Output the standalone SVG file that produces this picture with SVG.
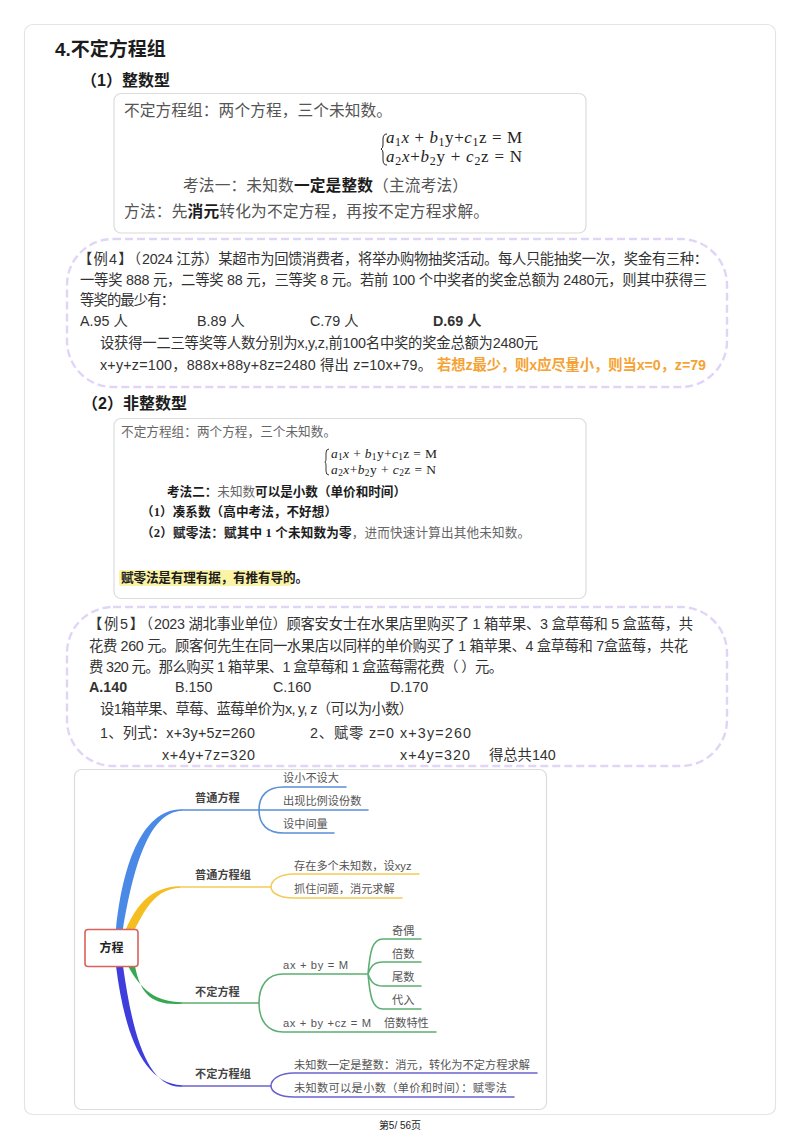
<svg xmlns="http://www.w3.org/2000/svg" width="800" height="1139" viewBox="0 0 800 1139">
<style>
text{font-family:"Liberation Sans","Noto Sans CJK SC",sans-serif;fill:#222}
.h1{font-size:19px;font-weight:700;fill:#1c1c1c}
.h2{font-size:16px;font-weight:700;fill:#1c1c1c}
.card{fill:#fff;stroke:#dcdcdc;stroke-width:1.2}
.dash{fill:#fff;stroke:#e1d5f7;stroke-width:2.4;stroke-dasharray:8 4}
.s1{font-size:15.7px;font-family:"Liberation Serif","Noto Sans CJK SC",serif;fill:#555}
.s2{font-size:12.6px;font-family:"Liberation Serif","Noto Sans CJK SC",serif;fill:#666}
.b{font-weight:700;fill:#1c1c1c}
.eq{font-family:"Liberation Serif",serif;fill:#222}
.eq1{font-size:17px}
.eq2{font-size:13.5px}
.sub{font-size:70%}
.ex{font-size:14.3px;fill:#333}
.or{fill:#f5a233;font-weight:700}
.m{font-size:11.2px;fill:#555}
.mb{font-size:11.2px;font-weight:700;fill:#444}
.ln{fill:none;stroke-width:1.6;stroke-linecap:round}
.blue{stroke:#5b8fd6}.yel{stroke:#f3cb58}.grn{stroke:#5cae72}.pur{stroke:#6a63cf}
</style>
<rect width="800" height="1139" fill="#fff"/>
<rect id="page" x="24.500" y="24.500" width="751" height="1090" rx="8" fill="#fff" stroke="#e4e4e4" stroke-width="1.2"/>
<g id="headings">
<text class="h1" x="55" y="56">4.不定方程组</text>
<text class="h2" x="81" y="86">（1）整数型</text>
<text class="h2" x="82" y="409">（2）非整数型</text>
</g>
<g id="card1">
<rect class="card" x="114" y="93.500" width="472" height="139.500" rx="7"/>
<text class="s1" x="124" y="116" textLength="268">不定方程组：两个方程，三个未知数。</text>
<path d="M387 134 Q383 134 383 139 V145 Q383 148 381 149 Q383 150 383 153 V160 Q383 165 387 165" fill="none" stroke="#222" stroke-width="1"/>
<text class="eq eq1" x="386" y="143" textLength="136"><tspan font-style="italic">a</tspan><tspan class="sub" dy="3">1</tspan><tspan font-style="italic" dy="-3">x</tspan> + <tspan font-style="italic">b</tspan><tspan class="sub" dy="3">1</tspan><tspan dy="-3">y+</tspan><tspan font-style="italic">c</tspan><tspan class="sub" dy="3">1</tspan><tspan dy="-3">z = M</tspan></text>
<text class="eq eq1" x="386" y="162" textLength="136"><tspan font-style="italic">a</tspan><tspan class="sub" dy="3">2</tspan><tspan font-style="italic" dy="-3">x</tspan>+<tspan font-style="italic">b</tspan><tspan class="sub" dy="3">2</tspan><tspan dy="-3">y + </tspan><tspan font-style="italic">c</tspan><tspan class="sub" dy="3">2</tspan><tspan dy="-3">z = N</tspan></text>
<text class="s1" x="183" y="191" textLength="285">考法一：未知数<tspan class="b">一定是整数</tspan>（主流考法）</text>
<text class="s1" x="124" y="217" textLength="365">方法：先<tspan class="b">消元</tspan>转化为不定方程，再按不定方程求解。</text>
</g>
<g id="example4">
<rect class="dash" x="67" y="239" width="660" height="148" rx="46"/>
<text class="ex" x="78" y="264" textLength="63">【例4】（</text>
<text class="ex" x="142" y="264" textLength="566">2024 江苏）某超市为回馈消费者，将举办购物抽奖活动。每人只能抽奖一次，奖金有三种：</text>
<text class="ex" x="80" y="285" textLength="627">一等奖 888 元，二等奖 88 元，三等奖 8 元。若前 100 个中奖者的奖金总额为 2480元，则其中获得三</text>
<text class="ex" x="80" y="305" textLength="95">等奖的最少有：</text>
<text class="ex" x="80" y="326">A.95 人</text>
<text class="ex" x="197" y="326">B.89 人</text>
<text class="ex" x="310" y="326">C.79 人</text>
<text class="ex b" x="433" y="326">D.69 人</text>
<text class="ex" x="100" y="348" textLength="438">设获得一二三等奖等人数分别为x,y,z,前100名中奖的奖金总额为2480元</text>
<text class="ex" x="100" y="370" textLength="332">x+y+z=100，888x+88y+8z=2480 得出 z=10x+79。</text>
<text class="ex or" x="437" y="370" textLength="269">若想z最少，则x应尽量小，则当x=0，z=79</text>
</g>
<g id="card2">
<rect class="card" x="114" y="418.500" width="472" height="180" rx="7"/>
<text class="s2" x="121" y="436" textLength="215">不定方程组：两个方程，三个未知数。</text>
<path d="M329 449 Q326 449 326 453 V459 Q326 461 325 462 Q326 463 326 465 V471 Q326 475 329 475" fill="none" stroke="#222" stroke-width=".9"/>
<text class="eq eq2" x="331" y="458" textLength="106"><tspan font-style="italic">a</tspan><tspan class="sub" dy="2">1</tspan><tspan font-style="italic" dy="-2">x</tspan> + <tspan font-style="italic">b</tspan><tspan class="sub" dy="2">1</tspan><tspan dy="-2">y+</tspan><tspan font-style="italic">c</tspan><tspan class="sub" dy="2">1</tspan><tspan dy="-2">z = M</tspan></text>
<text class="eq eq2" x="331" y="474" textLength="105"><tspan font-style="italic">a</tspan><tspan class="sub" dy="2">2</tspan><tspan font-style="italic" dy="-2">x</tspan>+<tspan font-style="italic">b</tspan><tspan class="sub" dy="2">2</tspan><tspan dy="-2">y + </tspan><tspan font-style="italic">c</tspan><tspan class="sub" dy="2">2</tspan><tspan dy="-2">z = N</tspan></text>
<text class="s2" x="167" y="496" textLength="239"><tspan class="b">考法二：</tspan>未知数<tspan class="b">可以是小数（单价和时间）</tspan></text>
<text class="s2 b" x="141" y="516" textLength="196">（1）凑系数（高中考法，不好想）</text>
<text class="s2" x="141" y="537" textLength="389"><tspan class="b">（2）赋零法：赋其中 1 个未知数为零</tspan>，进而快速计算出其他未知数。</text>
<rect x="119" y="570" width="173" height="16" rx="2" fill="#fbf3a6"/>
<text class="s2 b" x="121" y="582" textLength="187">赋零法是有理有据，有推有导的。</text>
</g>
<g id="example5">
<rect class="dash" x="67" y="607" width="660" height="159" rx="46"/>
<text class="ex" x="88" y="629" textLength="65">【例5】（</text>
<text class="ex" x="154" y="629" textLength="539">2023 湖北事业单位）顾客安女士在水果店里购买了 1 箱苹果、3 盒草莓和 5 盒蓝莓，共</text>
<text class="ex" x="89" y="651" textLength="599">花费 260 元。顾客何先生在同一水果店以同样的单价购买了 1 箱苹果、4 盒草莓和 7盒蓝莓，共花</text>
<text class="ex" x="89" y="672" textLength="414">费 320 元。那么购买 1 箱苹果、1 盒草莓和 1 盒蓝莓需花费（ ）元。</text>
<text class="ex b" x="89" y="692">A.140</text>
<text class="ex" x="175" y="692">B.150</text>
<text class="ex" x="273" y="692">C.160</text>
<text class="ex" x="390" y="692">D.170</text>
<text class="ex" x="100" y="714" textLength="313">设1箱苹果、草莓、蓝莓单价为x, y, z（可以为小数）</text>
<text class="ex" x="100" y="738" textLength="155">1、列式：x+3y+5z=260</text>
<text class="ex" x="310" y="738" textLength="84">2、赋零  z=0</text>
<text class="ex" x="400" y="738" textLength="71">x+3y=260</text>
<text class="ex" x="162" y="760" textLength="93">x+4y+7z=320</text>
<text class="ex" x="400" y="760" textLength="70">x+4y=320</text>
<text class="ex" x="489" y="760">得总共140</text>
</g>
<rect id="mapframe" x="74.500" y="769.500" width="472" height="340" rx="7" fill="#fff" stroke="#dcdcdc" stroke-width="1.2"/>
<g id="connectors">
<path d="M116 929 C122 870 140 809 182 809.200 L182 810.800 C148 812 133 870 123 929Z" fill="#4a8ae6"/>
<path d="M126 929 C137 905 150 887 180 886.200 L180 887.800 C156 889 146 908 135 929Z" fill="#f5bd1f"/>
<path d="M128 966 C141 990 156 1002 182 1002.200 L182 1003.800 C150 1006 140 992 135 966Z" fill="#36a852"/>
<path d="M116 966 C124 1030 142 1084 182 1085.200 L182 1086.800 C146 1088 132 1030 123 966Z" fill="#3f3ddc"/>
<path class="ln blue" d="M182 810H368M259 810C259 795 268 787 283 787H346M259 810C259 825 268 833 283 833H334"/>
<path class="ln yel" d="M180 887H271C271 880 280 874 294 874H419M271 887C271 893 280 898 294 898H402"/>
<path class="ln grn" d="M182 1003H259M259 1003C259 985 268 974 283 974H368M259 1003C259 1021 268 1032 283 1032H436M368 974C370 952 372 939 383 939H421M368 974C371 966 374 962 383 962H421M368 974C371 982 374 986 383 986H421M368 974C370 996 372 1009 383 1009H421"/>
<path class="ln pur" d="M182 1086H271C271 1079 280 1073 294 1073H537M271 1086C271 1092 280 1097 294 1097H514"/>
</g>
<g id="n-root">
<rect x="85" y="929.500" width="53" height="37" rx="3" fill="#fff" stroke="#d9625c" stroke-width="1.6"/>
<text x="111.500" y="952" text-anchor="middle" font-size="12" font-weight="700" fill="#222">方程</text>
</g>
<g id="n-a"><text class="mb" x="195" y="802">普通方程</text>
<text class="m" x="283" y="782">设小不设大</text><text class="m" x="283" y="805">出现比例设份数</text><text class="m" x="283" y="828">设中间量</text></g>
<g id="n-b"><text class="mb" x="195" y="879">普通方程组</text>
<text class="m" x="294" y="870">存在多个未知数，设xyz</text><text class="m" x="294" y="893">抓住问题，消元求解</text></g>
<g id="n-c"><text class="mb" x="195" y="996">不定方程</text>
<text class="m" x="283" y="969" textLength="65">ax + by = M</text><text class="m" x="283" y="1027" textLength="88">ax + by +cz = M</text>
<text class="m" x="392" y="935">奇偶</text><text class="m" x="392" y="958">倍数</text><text class="m" x="392" y="981">尾数</text><text class="m" x="392" y="1004">代入</text><text class="m" x="384" y="1027">倍数特性</text></g>
<g id="n-d"><text class="mb" x="195" y="1078">不定方程组</text>
<text class="m" x="294" y="1069" textLength="236">未知数一定是整数：消元，转化为不定方程求解</text><text class="m" x="294" y="1092" textLength="213">未知数可以是小数（单价和时间）：赋零法</text></g>
<text id="footer" x="400" y="1129" text-anchor="middle" font-size="10" fill="#333">第5/ 56页</text>
</svg>
